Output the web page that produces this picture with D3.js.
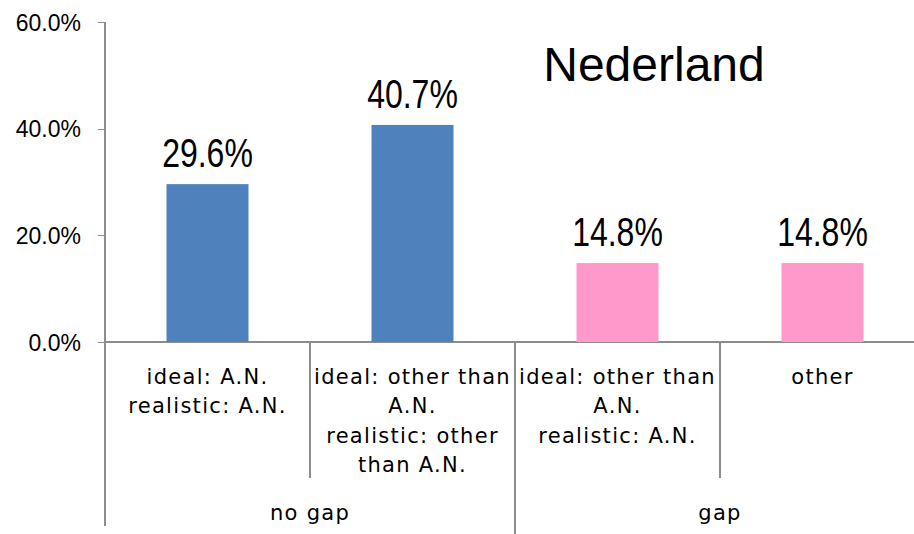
<!DOCTYPE html>
<meta charset="utf-8">
<style>
  body { margin: 0; background: #fff; }
  .rule { stroke: #8c8c8c; stroke-width: 1.3; shape-rendering: crispEdges; }
  .cat { font-family: "DejaVu Sans", sans-serif; font-size: 21px; letter-spacing: 1.3px; fill: #000; }
  .val { font-family: "Liberation Sans", Arial, sans-serif; font-size: 40px; fill: #000; }
</style>
<svg width="914" height="534"></svg>
<script src="https://cdnjs.cloudflare.com/ajax/libs/d3/7.8.5/d3.min.js"></script>
<script>

var categories = [
      ["ideal: A.N.", "realistic: A.N."],
      ["ideal: other than", "A.N.", "realistic: other", "than A.N."],
      ["ideal: other than", "A.N.", "realistic: A.N."],
      ["other"]
    ],
    values = [29.6, 40.7, 14.8, 14.8],
    groups = ["no gap", "no gap", "gap", "gap"],
    groupNames = ["no gap", "gap"],
    yTicks = [0, 20, 40, 60],
    title = "Nederland";

var colors = {"no gap": "#4f81bd", "gap": "#ff99cc"};

var svg = d3.select("svg"),
    plotLeft = 105,
    plotRight = 925,
    plotTop = 22,
    plotBase = 342,
    plotBottom = 526;

var x = d3.scaleBand()
    .domain(d3.range(values.length))
    .range([plotLeft, plotRight])
    .paddingInner(0.6)
    .paddingOuter(0.3);
var step = x.step();

var y = d3.scaleLinear().domain([0, 60]).range([plotBase, plotTop]);

// y axis
var yAxis = svg.append("g")
    .attr("transform", "translate(" + plotLeft + ",0)")
    .call(d3.axisLeft(y)
      .tickValues(yTicks)
      .tickSize(7)
      .tickSizeOuter(0)
      .tickPadding(17)
      .tickFormat(function(d) { return d.toFixed(1) + "%"; }));
yAxis.select(".domain").remove();
yAxis.selectAll(".tick line").attr("class", "rule");
yAxis.selectAll(".tick text")
    .attr("dy", "0.35em")
    .style("font-family", "'Liberation Sans', Arial, sans-serif")
    .style("font-size", "23px")
    .attr("fill", "#000");

// axis lines
svg.append("line").attr("class", "rule")
    .attr("x1", plotLeft).attr("x2", plotLeft).attr("y1", plotTop).attr("y2", plotBottom);
svg.append("line").attr("class", "rule")
    .attr("x1", plotLeft).attr("x2", 914).attr("y1", y(0)).attr("y2", y(0));

// separators between categories
d3.range(1, values.length).forEach(function(i) {
  var bx = plotLeft + i * step,
      groupEdge = groups[i] !== groups[i - 1];
  svg.append("line").attr("class", "rule")
      .attr("x1", bx).attr("x2", bx)
      .attr("y1", y(0)).attr("y2", groupEdge ? plotBottom + 8 : 478);
});

// bars
svg.selectAll(".bar")
  .data(values)
  .enter().append("rect")
    .attr("class", "bar")
    .attr("x", function(d, i) { return x(i); })
    .attr("width", x.bandwidth())
    .attr("y", function(d) { return y(d); })
    .attr("height", function(d) { return y(0) - y(d); })
    .attr("fill", function(d, i) { return colors[groups[i]]; });

// value labels
svg.selectAll(".val")
  .data(values)
  .enter().append("text")
    .attr("class", "val")
    .attr("text-anchor", "middle")
    .attr("transform", function(d, i) {
      return "translate(" + (x(i) + x.bandwidth() / 2) + "," + (y(d) - 17) + ") scale(0.8,1)";
    })
    .text(function(d) { return d.toFixed(1) + "%"; });

// category labels
categories.forEach(function(lines, i) {
  var t = svg.append("text")
      .attr("class", "cat")
      .attr("text-anchor", "middle")
      .attr("x", x(i) + x.bandwidth() / 2)
      .attr("y", 384);
  lines.forEach(function(s, j) {
    t.append("tspan")
        .attr("x", x(i) + x.bandwidth() / 2)
        .attr("dy", j === 0 ? 0 : 29.3)
        .text(s);
  });
});

// group labels
groupNames.forEach(function(g) {
  var idx = d3.range(groups.length).filter(function(i) { return groups[i] === g; });
  var gx = plotLeft + (d3.min(idx) + d3.max(idx) + 1) / 2 * step;
  svg.append("text")
      .attr("class", "cat")
      .attr("text-anchor", "middle")
      .attr("x", gx)
      .attr("y", 520)
      .text(g);
});

// title
svg.append("text")
    .attr("x", 654)
    .attr("y", 81)
    .attr("text-anchor", "middle")
    .style("font-family", "'Liberation Sans', Arial, sans-serif")
    .style("font-size", "48px")
    .text(title);

</script>
